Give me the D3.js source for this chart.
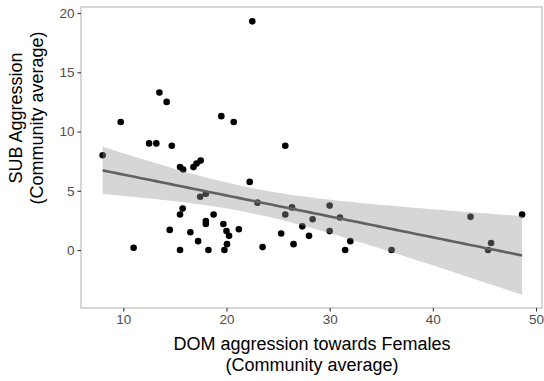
<!DOCTYPE html>
<html lang="en">
  <head>
    <meta charset="utf-8"/>
    <title>SUB vs DOM aggression</title>
    <script src="https://cdn.jsdelivr.net/npm/d3@7"></script>
    <style>
      body { margin: 0; background: #fff; }
      text { font-family: "Liberation Sans", Arial, sans-serif; }
    </style>
  </head>
  <body>
    <div id="chart"></div>
    <script>
     // community averages
     let domAggression = [
         8.0, 9.75, 11.0, 12.5, 13.2, 13.5, 14.2, 14.7, 14.5, 15.5,
         15.8, 15.75, 15.5, 15.5, 16.5, 16.8, 17.1, 17.5, 17.25, 17.45,
         18.0, 18.0, 18.0, 18.25, 18.75, 19.5, 19.7, 20.0, 20.25, 20.05,
         19.8, 20.7, 21.2, 22.25, 22.5, 23.0, 23.5, 25.3, 25.7, 25.7,
         26.35, 26.5, 27.35, 28.0, 28.35, 30.0, 30.0, 31.0, 31.5, 32.0,
         36.0, 43.65, 45.35, 45.65, 48.65
     ];
     let subAggression = [
         8.0, 10.8, 0.2, 9.0, 9.0, 13.3, 12.5, 8.8, 1.7, 7.0,
         6.8, 3.5, 3.0, 0.0, 1.5, 7.0, 7.3, 7.55, 0.75, 4.5,
         4.75, 2.45, 2.2, 0.0, 3.0, 11.3, 2.2, 1.6, 1.2, 0.5,
         0.0, 10.8, 1.75, 5.75, 19.3, 4.0, 0.25, 1.4, 8.8, 3.0,
         3.6, 0.5, 2.0, 1.2, 2.6, 3.75, 1.6, 2.75, 0.0, 0.75,
         0.0, 2.8, 0.0, 0.6, 3.0
     ];
     let xTicks = [10, 20, 30, 40, 50],
         yTicks = [0, 5, 10, 15, 20];

     let svgWidth = 544, svgHeight = 381;
     let panel = { left: 81, right: 542, top: 7, bottom: 308 };

     let svg = d3.select("#chart")
                 .append("svg")
                 .attr("width", svgWidth)
                 .attr("height", svgHeight);

     let xScale = d3.scaleLinear()
                    .domain([5.9, 50.58])
                    .range([panel.left, panel.right]);
     let yScale = d3.scaleLinear()
                    .domain([-4.89, 20.51])
                    .range([panel.bottom, panel.top]);

     let data = domAggression.map((d, i) => ({x: d, y: subAggression[i]}));

     // points first, the smoother ribbon sits on top of them
     svg.append("g")
        .selectAll("circle")
        .data(data)
        .join("circle")
        .attr("cx", d => xScale(d.x))
        .attr("cy", d => yScale(d.y))
        .attr("r", 3.3)
        .attr("fill", "#000");

     // linear fit with 95% band (what geom_smooth(method = "lm") does)
     let n = data.length,
         mx = d3.mean(data, d => d.x),
         my = d3.mean(data, d => d.y),
         sxx = d3.sum(data, d => (d.x - mx) ** 2),
         sxy = d3.sum(data, d => (d.x - mx) * (d.y - my)),
         slope = sxy / sxx,
         icpt = my - slope * mx,
         rss = d3.sum(data, d => (d.y - icpt - slope * d.x) ** 2),
         sigma = Math.sqrt(rss / (n - 2)),
         tq = 2.0066;

     let [xlo, xhi] = d3.extent(data, d => d.x);
     let fit = d3.range(80).map(k => {
         let x = xlo + (xhi - xlo) * k / 79,
             f = icpt + slope * x,
             se = sigma * Math.sqrt(1 / n + (x - mx) ** 2 / sxx);
         return {x: x, y: f, lo: f - tq * se, hi: f + tq * se};
     });

     svg.append("path")
        .datum(fit)
        .attr("fill", "#999999")
        .attr("fill-opacity", 0.4)
        .attr("d", d3.area()
                     .x(d => xScale(d.x))
                     .y0(d => yScale(d.lo))
                     .y1(d => yScale(d.hi)));

     svg.append("path")
        .datum(fit)
        .attr("fill", "none")
        .attr("stroke", "#616161")
        .attr("stroke-width", 2.6)
        .attr("d", d3.line()
                     .x(d => xScale(d.x))
                     .y(d => yScale(d.y)));

     // panel border
     svg.append("rect")
        .attr("x", panel.left)
        .attr("y", panel.top)
        .attr("width", panel.right - panel.left)
        .attr("height", panel.bottom - panel.top)
        .attr("fill", "none")
        .attr("stroke", "#bdbdbd")
        .attr("stroke-width", 1.2);

     let xAxis = d3.axisBottom(xScale)
                   .tickValues(xTicks)
                   .tickSize(3.5)
                   .tickPadding(3);
     let yAxis = d3.axisLeft(yScale)
                   .tickValues(yTicks)
                   .tickSize(3.5)
                   .tickPadding(3);

     let gx = svg.append("g")
                 .attr("transform", `translate(0, ${panel.bottom})`)
                 .call(xAxis);
     let gy = svg.append("g")
                 .attr("transform", `translate(${panel.left}, 0)`)
                 .call(yAxis);

     [gx, gy].forEach(g => {
         g.select(".domain").remove();
         g.selectAll(".tick line").attr("stroke", "#333333").attr("stroke-width", 1.1);
         g.selectAll(".tick text")
          .attr("fill", "#4d4d4d")
          .attr("font-size", 13.5)
          .attr("font-family", "Liberation Sans, Arial, sans-serif");
     });

     let xt = svg.append("text")
                 .attr("text-anchor", "middle")
                 .attr("font-size", 18)
                 .attr("fill", "#000");
     xt.append("tspan").attr("x", 312).attr("y", 350).text("DOM aggression towards Females");
     xt.append("tspan").attr("x", 312).attr("y", 371).text("(Community average)");

     let yt = svg.append("text")
                 .attr("text-anchor", "middle")
                 .attr("font-size", 18)
                 .attr("fill", "#000")
                 .attr("transform", "translate(0, 118) rotate(-90)");
     yt.append("tspan").attr("x", 0).attr("y", 22).text("SUB Aggression");
     yt.append("tspan").attr("x", 0).attr("y", 43).text("(Community average)");
    </script>
  </body>
</html>
